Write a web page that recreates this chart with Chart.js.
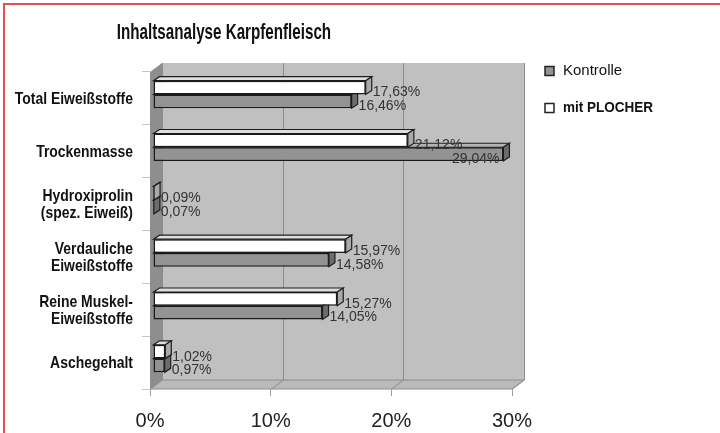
<!DOCTYPE html>
<html lang="de">
<head>
<meta charset="utf-8">
<title>Inhaltsanalyse Karpfenfleisch</title>
<script src="https://cdn.jsdelivr.net/npm/chart.js@4/dist/chart.umd.min.js"></script>
<style>
  html, body { margin: 0; padding: 0; background: #fff; }
  #rahmen { position: relative; width: 720px; height: 433px; overflow: hidden; }
  #rand { position: absolute; left: 3px; top: 3px; right: -10px; bottom: -10px;
          border-top: 2px solid #ea4d59; border-left: 2px solid #ea4d59; pointer-events: none; }
</style>
</head>
<body>
<div id="rahmen">
  <canvas id="myChart" width="720" height="433"></canvas>
  <div id="rand"></div>
</div>
<script>
// Kategorien (von oben nach unten)
const kategorien = [
  'Total Eiweißstoffe',
  'Trockenmasse',
  ['Hydroxiprolin', '(spez. Eiweiß)'],
  ['Verdauliche', 'Eiweißstoffe'],
  ['Reine Muskel-', 'Eiweißstoffe'],
  'Aschegehalt'
];
// Werte in %
const kontrolle  = [16.46, 29.04, 0.07, 14.58, 14.05, 0.97];
const mitPlocher = [17.63, 21.12, 0.09, 15.97, 15.27, 1.02];
// Achsenbeschriftung
const xTicks = [0, 10, 20, 30];

const titel = 'Inhaltsanalyse Karpfenfleisch';
const ARIAL = '"Liberation Sans", Arial, sans-serif';

// Raumtiefe (Rückwand) und Balkenversatz / -tiefe
const TIEFE_X = 12, TIEFE_Y = 9;
const BAL_X = 3, BAL_Y = -4;
const SEITE_X = 6, SEITE_Y = 4;

function prozent(v) {
  return v.toFixed(2).replace('.', ',') + '%';
}

// schmale Schrift: Text horizontal gestaucht zeichnen
function schmal(ctx, txt, x, y, faktor) {
  ctx.save();
  ctx.translate(x, y);
  ctx.scale(faktor, 1);
  ctx.fillText(txt, 0, 0);
  ctx.restore();
}

const raum = {
  id: 'raum',
  // Wände und Boden
  beforeDraw(chart) {
    const ctx = chart.ctx, a = chart.chartArea, x = chart.scales.x;
    ctx.save();
    // Rückwand
    ctx.fillStyle = '#c0c0c0';
    ctx.fillRect(a.left + TIEFE_X, a.top - TIEFE_Y, a.right - a.left, a.bottom - a.top);
    // linke Wand
    ctx.fillStyle = '#8e8e8e';
    ctx.beginPath();
    ctx.moveTo(a.left, a.top);
    ctx.lineTo(a.left + TIEFE_X, a.top - TIEFE_Y);
    ctx.lineTo(a.left + TIEFE_X, a.bottom - TIEFE_Y);
    ctx.lineTo(a.left, a.bottom);
    ctx.closePath();
    ctx.fill();
    // Boden
    ctx.fillStyle = '#bababa';
    ctx.strokeStyle = '#8c8c8c';
    ctx.lineWidth = 1;
    ctx.beginPath();
    ctx.moveTo(a.left, a.bottom);
    ctx.lineTo(a.left + TIEFE_X, a.bottom - TIEFE_Y);
    ctx.lineTo(a.right + TIEFE_X, a.bottom - TIEFE_Y);
    ctx.lineTo(a.right, a.bottom);
    ctx.closePath();
    ctx.fill();
    ctx.stroke();
    // Gitterlinien auf Rückwand und Boden
    xTicks.forEach(function(t) {
      const px = Math.round(x.getPixelForValue(t)) + 0.5;
      ctx.beginPath();
      ctx.moveTo(px + TIEFE_X, a.top - TIEFE_Y);
      ctx.lineTo(px + TIEFE_X, a.bottom - TIEFE_Y);
      ctx.lineTo(px, a.bottom);
      ctx.stroke();
    });
    ctx.restore();
  },
  // Seiten- und Oberflächen der Balken
  beforeDatasetsDraw(chart) {
    const ctx = chart.ctx;
    ctx.save();
    ctx.translate(BAL_X, BAL_Y);
    ctx.lineWidth = 1.2;
    ctx.strokeStyle = '#1e1e1e';
    for (let d = chart.data.datasets.length - 1; d >= 0; d--) {
      const ds = chart.data.datasets[d];
      chart.getDatasetMeta(d).data.forEach(function(el) {
        const l = Math.min(el.base, el.x), r = Math.max(el.base, el.x);
        const o = el.y - el.height / 2, u = el.y + el.height / 2;
        // oben
        ctx.fillStyle = ds.oben;
        ctx.beginPath();
        ctx.moveTo(l, o);
        ctx.lineTo(l + SEITE_X, o - SEITE_Y);
        ctx.lineTo(r + SEITE_X, o - SEITE_Y);
        ctx.lineTo(r, o);
        ctx.closePath();
        ctx.fill(); ctx.stroke();
        // rechts
        ctx.fillStyle = ds.seite;
        ctx.beginPath();
        ctx.moveTo(r, o);
        ctx.lineTo(r + SEITE_X, o - SEITE_Y);
        ctx.lineTo(r + SEITE_X, u - SEITE_Y);
        ctx.lineTo(r, u);
        ctx.closePath();
        ctx.fill(); ctx.stroke();
      });
    }
    // Balken selbst leicht nach hinten versetzt
    ctx.restore();
    ctx.save();
    ctx.translate(BAL_X, BAL_Y);
  },
  afterDatasetsDraw(chart) {
    const ctx = chart.ctx, a = chart.chartArea;
    ctx.restore();
    // Wertbeschriftung
    ctx.save();
    ctx.font = '14px ' + ARIAL;
    ctx.fillStyle = '#333';
    ctx.textBaseline = 'middle';
    chart.data.datasets.forEach(function(ds, d) {
      chart.getDatasetMeta(d).data.forEach(function(el, i) {
        const txt = prozent(ds.data[i]);
        const r = Math.max(el.base, el.x) + BAL_X;
        let tx = r + SEITE_X + 1, ty = el.y + BAL_Y + 5;
        ctx.textAlign = 'left';
        if (tx + ctx.measureText(txt).width > a.right + TIEFE_X) {
          ctx.textAlign = 'right';
          tx = r - 4;
        }
        ctx.fillText(txt, tx, ty);
      });
    });
    ctx.restore();
  },
  // Titel, Kategorienamen und Legende
  afterDraw(chart) {
    const ctx = chart.ctx, a = chart.chartArea, y = chart.scales.y;
    ctx.save();
    ctx.fillStyle = '#111';
    ctx.textBaseline = 'middle';
    ctx.textAlign = 'center';
    ctx.font = 'bold 22px ' + ARIAL;
    schmal(ctx, titel, 224, 33, 0.69);

    // Kategorien links, rechtsbündig
    ctx.textAlign = 'right';
    ctx.font = 'bold 17px ' + ARIAL;
    kategorien.forEach(function(k, i) {
      const zeilen = Array.isArray(k) ? k : [k];
      const mitte = y.getPixelForValue(i) + 1;
      zeilen.forEach(function(z, j) {
        const ly = mitte + (j - (zeilen.length - 1) / 2) * 17;
        schmal(ctx, z, a.left - 17, ly, 0.82);
      });
    });

    // Legende (Kontrolle zuerst)
    ctx.textAlign = 'left';
    const eintraege = chart.data.datasets.slice().reverse();
    eintraege.forEach(function(ds, k) {
      const ly = a.top - 1 + k * 37;
      ctx.fillStyle = ds.backgroundColor;
      ctx.strokeStyle = '#222';
      ctx.lineWidth = 1.5;
      ctx.fillRect(a.right + 33, ly - 4.5, 9, 9);
      ctx.strokeRect(a.right + 33, ly - 4.5, 9, 9);
      ctx.fillStyle = '#111';
      if (k === 1) {
        ctx.font = 'bold 15px ' + ARIAL;
        schmal(ctx, ds.label, a.right + 51, ly, 0.9);
      } else {
        ctx.font = '15px ' + ARIAL;
        schmal(ctx, ds.label, a.right + 51, ly, 1);
      }
    });
    ctx.restore();
  }
};

new Chart(document.getElementById('myChart'), {
  type: 'bar',
  data: {
    labels: kategorien,
    datasets: [{
      label: 'mit PLOCHER',
      data: mitPlocher,
      backgroundColor: '#ffffff',
      oben: '#dedede',
      seite: '#a9a9a9',
      borderColor: '#1a1a1a',
      borderWidth: 1.5,
      borderSkipped: false,
      clip: false
    }, {
      label: 'Kontrolle',
      data: kontrolle,
      backgroundColor: '#939393',
      oben: '#b4b4b4',
      seite: '#6c6c6c',
      borderColor: '#1a1a1a',
      borderWidth: 1.5,
      borderSkipped: false,
      clip: false
    }]
  },
  options: {
    indexAxis: 'y',
    responsive: false,
    animation: false,
    categoryPercentage: 0.52,
    barPercentage: 1,
    layout: { padding: { top: 72, right: 208, bottom: 0, left: 0 } },
    plugins: {
      legend: { display: false },
      title: { display: false },
      tooltip: { enabled: false }
    },
    scales: {
      x: {
        min: 0,
        max: 30,
        afterFit: function(scale) { scale.height = 44; },
        afterBuildTicks: function(scale) {
          scale.ticks = xTicks.map(function(v) { return { value: v }; });
        },
        ticks: {
          callback: function(v) { return v + '%'; },
          font: { family: ARIAL, size: 20 },
          color: '#222',
          padding: 13,
          maxRotation: 0
        },
        grid: { drawOnChartArea: false, drawTicks: true, tickLength: 7, color: '#a0a0a0' },
        border: { display: false }
      },
      y: {
        afterFit: function(scale) { scale.width = 150; },
        ticks: { display: false },
        grid: { drawOnChartArea: false, drawTicks: true, tickLength: 8, color: '#c4c4c4', offset: true },
        border: { display: false }
      }
    }
  },
  plugins: [raum]
});
</script>
</body>
</html>
